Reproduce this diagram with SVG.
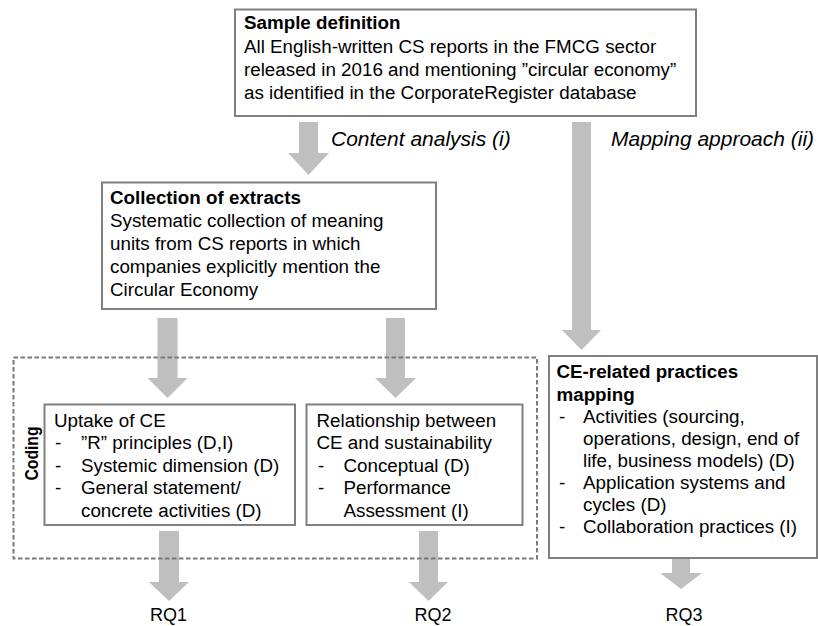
<svg xmlns="http://www.w3.org/2000/svg" width="818" height="626" viewBox="0 0 818 626">
<style>
.box{fill:#fff;stroke:#808080;stroke-width:2}
.dash{fill:none;stroke:#7a7a7a;stroke-width:2;stroke-dasharray:4.5 2.5}
.arr{fill:#bfbfbf;stroke:none}
text{font-family:"Liberation Sans",Arial,sans-serif;font-size:18.8px;fill:#000}
.b{font-weight:bold}
.lbl{font-style:italic;font-size:21px}
.rq{font-size:18px;text-anchor:middle}
.cod{font-weight:bold;font-size:19px;text-anchor:middle}
</style>
<rect width="818" height="626" fill="#fff"/>

<g id="connectors">
  <polygon class="arr" points="299,122 318,122 318,153 329,153 308.5,175 288,153 299,153"/>
  <polygon class="arr" points="572,122 591,122 591,330 601,330 581.5,350 562,330 572,330"/>
  <polygon class="arr" points="157.5,318 177.5,318 177.5,378 187.5,378 167.5,398 147.5,378 157.5,378"/>
  <polygon class="arr" points="386,318 405,318 405,378 416,378 395.5,398 375,378 386,378"/>
  <polygon class="arr" points="159,531 179,531 179,582 189,582 169,601 149,582 159,582"/>
  <polygon class="arr" points="419,531 438,531 438,582 448,582 428.5,601 409,582 419,582"/>
  <polygon class="arr" points="672,559 690,559 690,573 702,573 681,589 660,573 672,573"/>
  <text class="lbl" x="331" y="146">Content analysis (i)</text>
  <text class="lbl" x="611" y="146">Mapping approach (ii)</text>
</g>

<g id="sample-definition">
  <rect class="box" x="235" y="9.5" width="461" height="106.5"/>
  <text class="b" x="244" y="29">Sample definition</text>
  <text x="244" y="53">All English-written CS reports in the FMCG sector</text>
  <text x="244" y="76">released in 2016 and mentioning ”circular economy”</text>
  <text x="244" y="99">as identified in the CorporateRegister database</text>
</g>

<g id="collection-of-extracts">
  <rect class="box" x="102" y="182.5" width="334" height="126.5"/>
  <text class="b" x="110" y="204">Collection of extracts</text>
  <text x="110" y="227">Systematic collection of meaning</text>
  <text x="110" y="250">units from CS reports in which</text>
  <text x="110" y="273">companies explicitly mention the</text>
  <text x="110" y="296">Circular Economy</text>
</g>

<g id="coding">
  <rect class="dash" x="13.5" y="357.5" width="523.5" height="201"/>
  <text class="cod" transform="translate(37.5,453.5) rotate(-90)" textLength="54" lengthAdjust="spacingAndGlyphs">Coding</text>
</g>

<g id="uptake-of-ce">
  <rect class="box" x="44.5" y="404.5" width="250.5" height="120.5"/>
  <text x="54" y="427">Uptake of CE</text>
  <text x="55" y="449">-</text><text x="81" y="449">”R” principles (D,I)</text>
  <text x="55" y="471.5">-</text><text x="81" y="471.5">Systemic dimension (D)</text>
  <text x="55" y="494">-</text><text x="81" y="494">General statement/</text>
  <text x="81" y="516.5">concrete activities (D)</text>
</g>

<g id="relationship">
  <rect class="box" x="306.5" y="404.5" width="216" height="120.5"/>
  <text x="316.5" y="427">Relationship between</text>
  <text x="316.5" y="449">CE and sustainability</text>
  <text x="318" y="471.5">-</text><text x="343.5" y="471.5">Conceptual (D)</text>
  <text x="318" y="494">-</text><text x="343.5" y="494">Performance</text>
  <text x="343.5" y="516.5">Assessment (I)</text>
</g>

<g id="ce-practices-mapping">
  <rect class="box" x="549" y="356" width="268" height="202"/>
  <text class="b" x="556.5" y="378">CE-related practices</text>
  <text class="b" x="556.5" y="400.5">mapping</text>
  <text x="559" y="422.5">-</text><text x="583" y="422.5">Activities (sourcing,</text>
  <text x="583" y="444.5">operations, design, end of</text>
  <text x="583" y="466.5">life, business models) (D)</text>
  <text x="559" y="489">-</text><text x="583" y="489">Application systems and</text>
  <text x="583" y="511">cycles (D)</text>
  <text x="559" y="533">-</text><text x="583" y="533">Collaboration practices (I)</text>
</g>

<g id="rq1"><text class="rq" x="168.5" y="621">RQ1</text></g>
<g id="rq2"><text class="rq" x="433" y="621">RQ2</text></g>
<g id="rq3"><text class="rq" x="684" y="621">RQ3</text></g>
</svg>
